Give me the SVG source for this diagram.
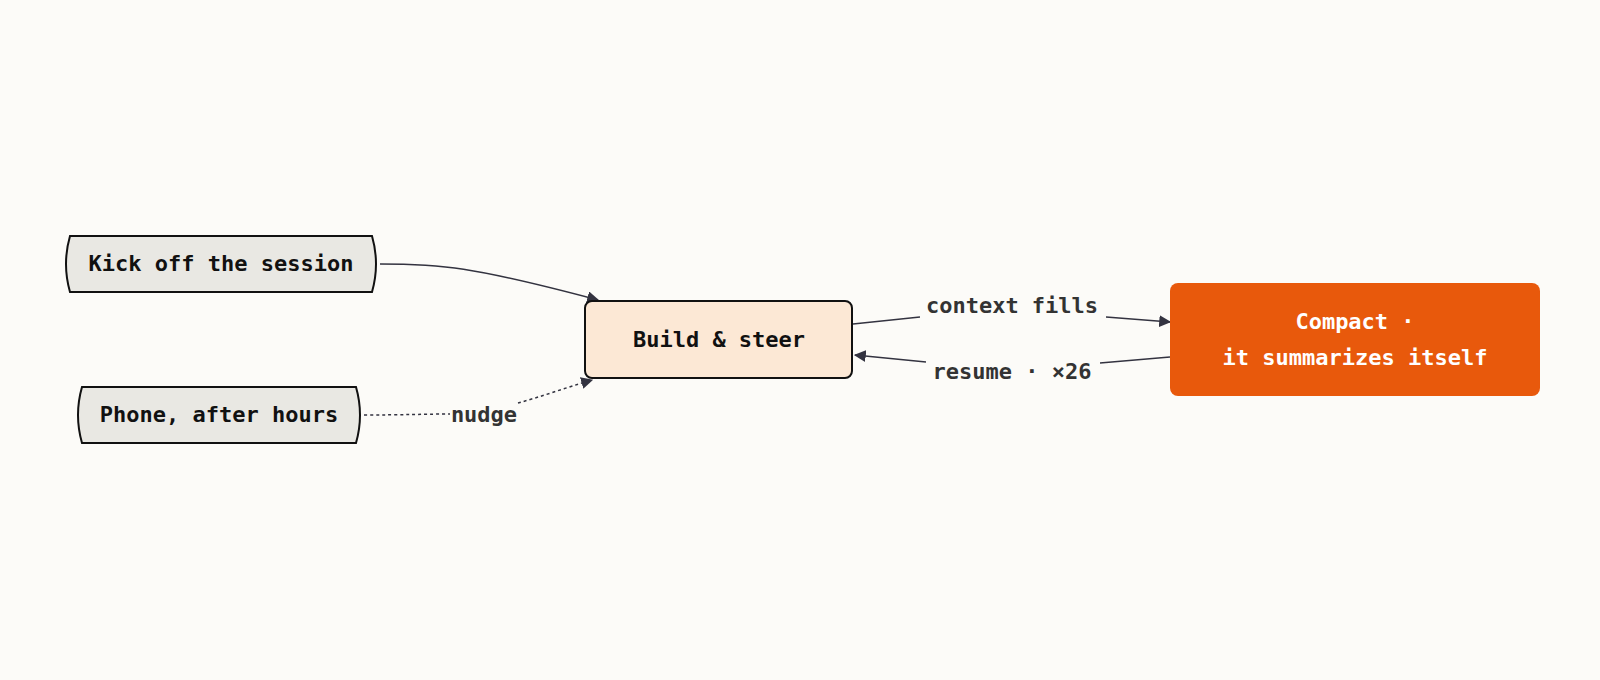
<svg xmlns="http://www.w3.org/2000/svg" width="1600" height="680" viewBox="0 0 1600 680">
<defs>
<style>
text{font-family:"DejaVu Sans Mono","Liberation Mono",monospace;font-weight:bold;font-size:22px;text-anchor:middle;dominant-baseline:central}
.n{fill:#111}
.lbl{fill:#333}
.e{fill:none;stroke:#333340;stroke-width:1.5}
</style>
<marker id="ad" viewBox="0 0 10 10" refX="9" refY="5" markerWidth="8" markerHeight="8" orient="auto-start-reverse"><path d="M0,0L10,5L0,10z" fill="#333340"/></marker>
<marker id="ao" viewBox="0 0 10 10" refX="9" refY="5" markerWidth="8" markerHeight="8" orient="auto-start-reverse"><path d="M0,0L10,5L0,10z" fill="#333340"/></marker>
</defs>
<rect width="1600" height="680" fill="#FCFBF8"/>
<g id="connectors">
<path class="e" d="M380,264 C440,264 470,266 598,300" marker-end="url(#ad)"/>
<path class="e" d="M364,415 C400,415 430,414 450,414 M518,403 C540,397 565,388 592,380" stroke-dasharray="3,3" marker-end="url(#ad)"/>
<text class="lbl" x="484" y="414">nudge</text>
<path class="e" d="M853,324 L920,317 M1106,317 L1170,322" marker-end="url(#ad)"/>
<text class="lbl" x="1012" y="305">context fills</text>
<path class="e" d="M1170,357 L1100,363 M926,362 L855,355" stroke="#E8590C" stroke-width="3" marker-end="url(#ao)"/>
<text class="lbl" x="1012" y="371">resume · ×26</text>
</g>
<g id="kick">
<path d="M70,236 H372 Q380,264 372,292 H70 Q62,264 70,236 Z" fill="#E9E8E3" stroke="#111" stroke-width="2"/>
<text class="n" x="221" y="263">Kick off the session</text>
</g>
<g id="phone">
<path d="M82,387 H356 Q364,415 356,443 H82 Q74,415 82,387 Z" fill="#E9E8E3" stroke="#111" stroke-width="2"/>
<text class="n" x="219" y="414">Phone, after hours</text>
</g>
<g id="build">
<rect x="585" y="301" width="267" height="77" rx="7" fill="#FCE8D5" stroke="#111" stroke-width="2"/>
<text class="n" x="719" y="339">Build &amp; steer</text>
</g>
<g id="compact">
<rect x="1170" y="283" width="370" height="113" rx="8" fill="#E8590C"/>
<text x="1355" y="321" fill="#fff">Compact ·</text>
<text x="1355" y="357" fill="#fff">it summarizes itself</text>
</g>
</svg>
